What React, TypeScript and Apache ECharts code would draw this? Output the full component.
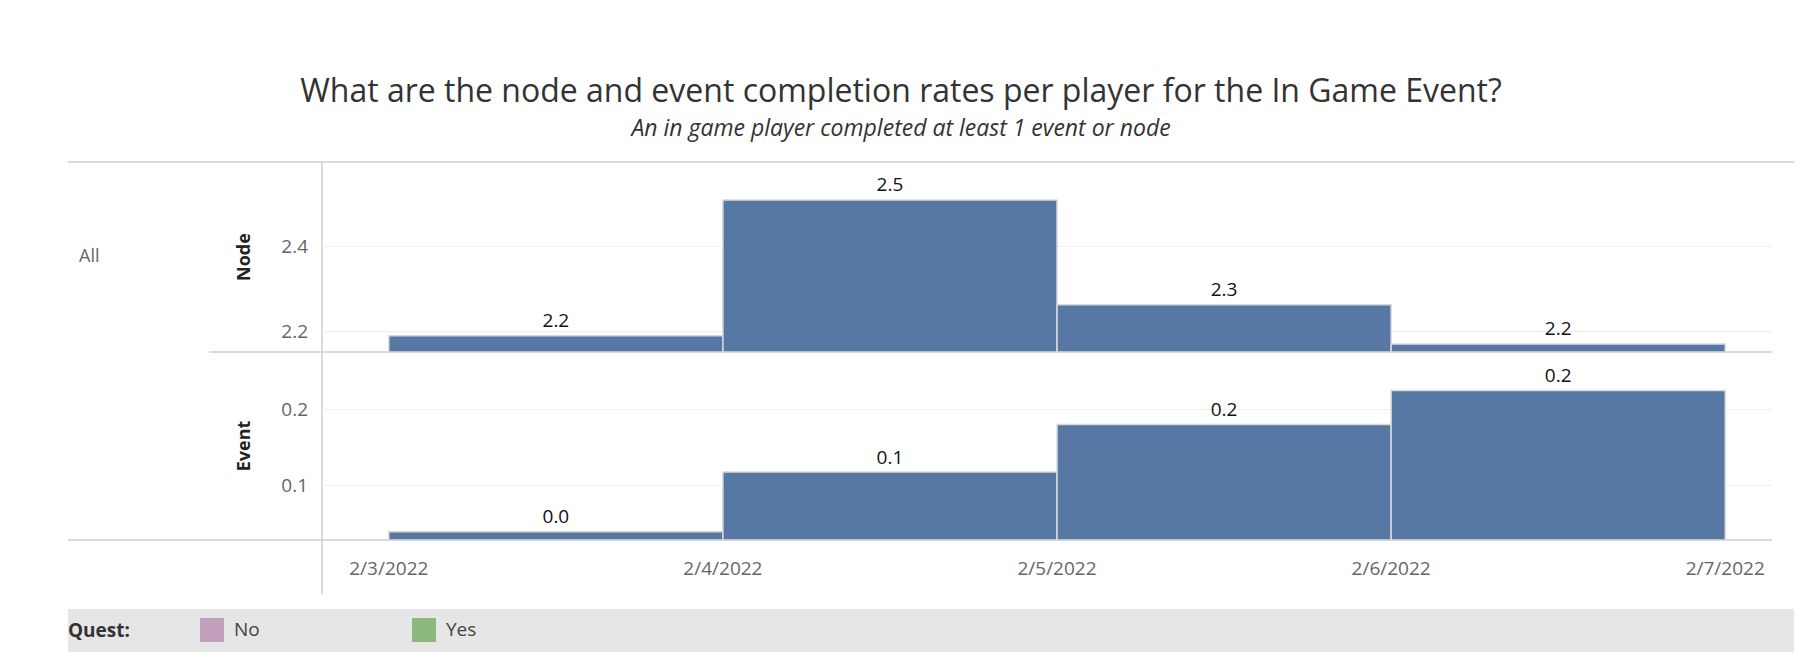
import { useRef, useEffect } from "react"
import * as echarts from "echarts"

const dates = ["2/3/2022", "2/4/2022", "2/5/2022", "2/6/2022", "2/7/2022"]
const nodeValues = [2.189, 2.508, 2.262, 2.17]
const eventValues = [0.038, 0.117, 0.18, 0.225]
const nodeTicks = [2.2, 2.4]
const eventTicks = [0.1, 0.2]

const FONT = "'Open Sans', Lato, sans-serif"
const LINE = "#cfcfcf"

function stepSeries(values: number[], idx: number, base: number) {
  return {
    type: "custom",
    xAxisIndex: idx,
    yAxisIndex: idx,
    data: values.map((v, i) => [i, v]),
    renderItem: (params: any, api: any) => {
      const i = api.value(0)
      const v = api.value(1)
      const p0 = api.coord([i, v])
      const p1 = api.coord([i + 1, base])
      return {
        type: "group",
        children: [
          {
            type: "rect",
            shape: { x: p0[0], y: p0[1], width: p1[0] - p0[0], height: p1[1] - p0[1] },
            style: { fill: "#5778a4", stroke: "#d9d9d9", lineWidth: 1.5 },
          },
          {
            type: "text",
            x: (p0[0] + p1[0]) / 2,
            y: p0[1] - 6,
            style: {
              text: v.toFixed(1),
              fill: "#111",
              font: `19px ${FONT}`,
              align: "center",
              verticalAlign: "bottom",
            },
          },
        ],
      }
    },
  }
}

export default function App() {
  const chartRef = useRef<HTMLDivElement>(null)

  useEffect(() => {
    if (!chartRef.current) return
    const chart = echarts.init(chartRef.current, null, { renderer: "svg" })

    const xBase = {
      type: "value",
      min: -0.2,
      max: 4.14,
      axisLine: { show: false },
      axisTick: { show: false },
      splitLine: { show: false },
    }
    const yBase = {
      type: "value",
      axisLine: { show: false },
      axisTick: { show: false, customValues: [] as number[] },
      splitLine: { show: true, lineStyle: { color: "#eeeeee" } },
      axisLabel: { color: "#666", fontSize: 19, fontFamily: FONT, margin: 14 },
      nameLocation: "middle",
      nameRotate: 90,
      nameGap: 70,
      nameTextStyle: { color: "#222", fontSize: 18, fontWeight: "bold", fontFamily: FONT },
    }

    const line = (x1: number, y1: number, x2: number, y2: number) => ({
      type: "line",
      shape: { x1, y1, x2, y2 },
      style: { stroke: LINE, lineWidth: 1.5 },
      silent: true,
    })

    chart.setOption({
      animation: false,
      title: {
        text: "What are the node and event completion rates per player for the In Game Event?",
        subtext: "An in game player completed at least 1 event or node",
        left: "center",
        top: 60,
        itemGap: 10,
        textStyle: { fontSize: 32, fontWeight: "normal", color: "#333", fontFamily: FONT },
        subtextStyle: { fontSize: 23, fontStyle: "italic", color: "#333", fontFamily: FONT },
      },
      grid: [
        { left: 314, top: 154, width: 1450, height: 190 },
        { left: 314, top: 344, width: 1450, height: 188 },
      ],
      xAxis: [
        { ...xBase, gridIndex: 0, axisLabel: { show: false } },
        {
          ...xBase,
          gridIndex: 1,
          axisLabel: {
            show: true,
            customValues: [0, 1, 2, 3, 4],
            formatter: (v: number) => dates[Math.round(v)],
            color: "#666",
            fontSize: 19,
            fontFamily: FONT,
            margin: 18,
          },
        },
      ],
      yAxis: [
        {
          ...yBase,
          gridIndex: 0,
          name: "Node",
          min: 2.151,
          max: 2.597,
          axisTick: { show: false, customValues: nodeTicks },
          axisLabel: { ...yBase.axisLabel, customValues: nodeTicks, formatter: (v: number) => v.toFixed(1) },
        },
        {
          ...yBase,
          gridIndex: 1,
          name: "Event",
          min: 0.027,
          max: 0.276,
          axisTick: { show: false, customValues: eventTicks },
          axisLabel: { ...yBase.axisLabel, customValues: eventTicks, formatter: (v: number) => v.toFixed(1) },
        },
      ],
      series: [stepSeries(nodeValues, 0, 2.151), stepSeries(eventValues, 1, 0.027)],
      graphic: [
        line(60, 154, 1787, 154),
        line(314, 154, 314, 586),
        line(1787, 154, 1787, 586),
        line(201, 344, 1764, 344),
        line(60, 532, 1764, 532),
        {
          type: "text",
          x: 71,
          y: 247,
          style: { text: "All", fill: "#666", font: `18px ${FONT}`, verticalAlign: "middle" },
        },
        {
          type: "rect",
          shape: { x: 60, y: 601, width: 1727, height: 43 },
          style: { fill: "#e6e6e6" },
        },
        {
          type: "text",
          x: 60,
          y: 622,
          style: { text: "Quest:", fill: "#333", font: `bold 19px ${FONT}`, verticalAlign: "middle" },
        },
        { type: "rect", shape: { x: 192, y: 610, width: 24, height: 24 }, style: { fill: "#c29fbb" } },
        {
          type: "text",
          x: 226,
          y: 621,
          style: { text: "No", fill: "#444", font: `19px ${FONT}`, verticalAlign: "middle" },
        },
        { type: "rect", shape: { x: 404, y: 610, width: 24, height: 24 }, style: { fill: "#8db87e" } },
        {
          type: "text",
          x: 438,
          y: 621,
          style: { text: "Yes", fill: "#444", font: `19px ${FONT}`, verticalAlign: "middle" },
        },
      ],
    })

    const handleResize = () => chart.resize()
    window.addEventListener("resize", handleResize)
    return () => {
      window.removeEventListener("resize", handleResize)
      chart.dispose()
    }
  }, [])

  return <div ref={chartRef} style={{ width: "1786px", height: "644px" }} />
}
